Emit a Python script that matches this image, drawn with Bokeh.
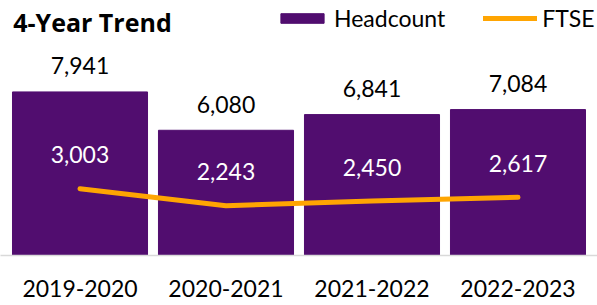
from bokeh.plotting import figure
from bokeh.models import ColumnDataSource, Range1d, Legend, LegendItem, Label
from bokeh.core.properties import value
from bokeh.embed import file_html
from bokeh.resources import INLINE

categories = ["2019-2020", "2020-2021", "2021-2022", "2022-2023"]
headcount = [7941, 6080, 6841, 7084]
ftse = [3003, 2243, 2450, 2617]

PURPLE = "#510D6F"
ORANGE = "#FFA502"
FONT = "Lato"

src = ColumnDataSource(dict(
    cat=categories,
    hc=headcount,
    ftse=ftse,
    hc_txt=[f"{v:,}" for v in headcount],
    ftse_txt=[f"{v:,}" for v in ftse],
))

p = figure(
    x_range=categories,
    y_range=Range1d(0, 12380),
    width=597, height=305,
    min_border_left=0, min_border_right=0, min_border_top=0, min_border_bottom=50,
    y_axis_location=None,
    output_backend="svg", toolbar_location=None,
)
p.x_range.range_padding = 0.0223
p.extra_y_ranges = {"ftse": Range1d(0, 11475)}
p.outline_line_color = None
p.xgrid.visible = False
p.ygrid.visible = False
p.background_fill_color = "white"
p.border_fill_color = "white"

xa = p.xaxis[0]
xa.axis_line_color = "#D9D9D9"
xa.axis_line_width = 1.5
xa.major_tick_line_color = None
xa.minor_tick_line_color = None
xa.major_tick_out = 0
xa.major_tick_in = 0
xa.major_label_standoff = 24
xa.major_label_text_font = FONT
xa.major_label_text_font_size = "23px"
xa.major_label_text_color = "black"

bars = p.vbar(x="cat", top="hc", width=0.925, source=src,
              fill_color=PURPLE, line_color=PURPLE)
line = p.line(x="cat", y="ftse", source=src, y_range_name="ftse",
              line_color=ORANGE, line_width=5, line_cap="round", line_join="round")

p.text(x="cat", y="hc", text="hc_txt", source=src,
       text_align="center", text_baseline="alphabetic", y_offset=-26,
       text_font=value(FONT), text_font_size="23px", text_color="black")
p.text(x="cat", y="ftse", text="ftse_txt", source=src, y_range_name="ftse",
       text_align="center", text_baseline="alphabetic", y_offset=-34,
       text_font=value(FONT), text_font_size="23px", text_color="white")

title = Label(x=12.7, y=234, x_units="screen", y_units="screen",
              text="4-Year Trend", text_font="Open Sans", text_font_size="25px",
              text_font_style="bold", text_color="black",
              text_baseline="alphabetic", text_align="left")
p.add_layout(title)

legend = Legend(
    items=[LegendItem(label="Headcount", renderers=[bars]),
           LegendItem(label="FTSE", renderers=[line])],
    orientation="horizontal",
    location=(275, 223),
    glyph_width=54, glyph_height=12, label_standoff=5, spacing=38,
    padding=0, margin=0,
    label_text_font=FONT, label_text_font_size="23px", label_text_color="black",
    background_fill_alpha=0, border_line_color=None,
)
p.add_layout(legend)

open("out.html", "w").write(file_html(p, INLINE))
